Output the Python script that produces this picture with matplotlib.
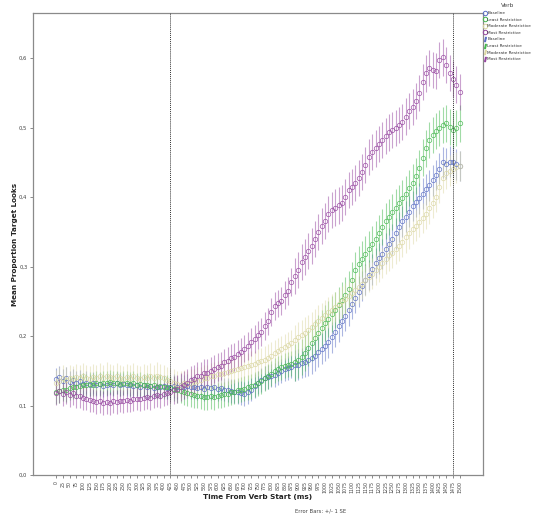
import matplotlib
matplotlib.use("Agg")
import matplotlib.pyplot as plt
from matplotlib.lines import Line2D
import numpy as np

# ---------------- data ----------------
step_ms = 12.5
tick_labels = [str(v) for v in range(0, 1501, 25)]
series_names = ["Baseline", "Least Restrictive", "Moderate Restrictive", "Most Restrictive"]
colors = ["#5a6ec4", "#45b84f", "#dcd8a4", "#9646a0"]

most = [0.118,0.121,0.117,0.119,0.115,0.118,0.114,0.113,0.111,0.110,
        0.108,0.107,0.105,0.106,0.104,0.105,0.103,0.106,0.105,0.107,
        0.106,0.108,0.107,0.109,0.110,0.109,0.111,0.112,0.111,0.113,
        0.115,0.114,0.116,0.118,0.120,0.122,0.124,0.127,0.129,0.133,
        0.137,0.138,0.142,0.143,0.147,0.147,0.150,0.153,0.155,0.157,
        0.162,0.164,0.168,0.170,0.174,0.177,0.182,0.186,0.192,0.196,
        0.202,0.206,0.214,0.221,0.235,0.243,0.247,0.251,0.259,0.265,
        0.278,0.286,0.295,0.306,0.314,0.322,0.330,0.340,0.350,0.358,
        0.366,0.376,0.381,0.385,0.388,0.392,0.400,0.410,0.415,0.420,
        0.428,0.436,0.446,0.458,0.465,0.470,0.476,0.482,0.488,0.493,
        0.497,0.500,0.504,0.508,0.516,0.524,0.530,0.538,0.550,0.566,
        0.578,0.586,0.583,0.582,0.597,0.601,0.590,0.579,0.570,0.562,
        0.551]

baseline = [0.138,0.141,0.136,0.139,0.134,0.137,0.133,0.135,0.131,0.133,
            0.130,0.132,0.129,0.131,0.128,0.130,0.131,0.129,0.132,0.130,
            0.131,0.129,0.130,0.128,0.130,0.127,0.129,0.126,0.128,0.125,
            0.127,0.126,0.128,0.125,0.127,0.128,0.126,0.129,0.127,0.128,
            0.126,0.127,0.125,0.127,0.124,0.126,0.125,0.127,0.124,0.125,
            0.123,0.122,0.121,0.120,0.119,0.118,0.117,0.119,0.123,0.128,
            0.133,0.137,0.140,0.141,0.143,0.144,0.147,0.150,0.152,0.154,
            0.156,0.158,0.159,0.161,0.163,0.165,0.168,0.172,0.177,0.182,
            0.186,0.191,0.198,0.206,0.214,0.222,0.229,0.237,0.246,0.255,
            0.264,0.272,0.281,0.288,0.296,0.305,0.312,0.318,0.326,0.333,
            0.340,0.348,0.357,0.365,0.372,0.379,0.387,0.393,0.398,0.405,
            0.411,0.417,0.424,0.432,0.441,0.450,0.448,0.451,0.450,0.447,
            0.445]

least = [0.119,0.121,0.123,0.122,0.125,0.127,0.126,0.128,0.130,0.129,
         0.131,0.130,0.132,0.131,0.133,0.132,0.134,0.132,0.133,0.131,
         0.132,0.133,0.131,0.132,0.130,0.131,0.129,0.130,0.128,0.129,
         0.127,0.128,0.126,0.127,0.125,0.124,0.122,0.121,0.119,0.118,
         0.116,0.115,0.114,0.113,0.112,0.112,0.113,0.112,0.114,0.115,
         0.116,0.117,0.119,0.120,0.122,0.123,0.124,0.126,0.128,0.130,
         0.132,0.135,0.139,0.142,0.146,0.150,0.153,0.155,0.157,0.159,
         0.160,0.162,0.165,0.170,0.176,0.183,0.190,0.197,0.205,0.212,
         0.219,0.225,0.232,0.238,0.245,0.252,0.259,0.268,0.280,0.295,
         0.303,0.311,0.318,0.325,0.333,0.340,0.348,0.357,0.365,0.371,
         0.378,0.385,0.391,0.398,0.404,0.413,0.421,0.430,0.442,0.457,
         0.470,0.482,0.489,0.495,0.500,0.504,0.506,0.501,0.497,0.499,
         0.506]

moderate = [0.132,0.136,0.139,0.137,0.140,0.138,0.141,0.139,0.142,0.140,
            0.138,0.141,0.139,0.142,0.140,0.143,0.141,0.139,0.142,0.140,
            0.138,0.141,0.139,0.142,0.140,0.138,0.141,0.139,0.142,0.140,
            0.143,0.141,0.139,0.137,0.135,0.133,0.131,0.130,0.132,0.131,
            0.133,0.134,0.136,0.137,0.139,0.140,0.142,0.143,0.145,0.146,
            0.147,0.148,0.150,0.151,0.153,0.154,0.156,0.157,0.159,0.160,
            0.162,0.164,0.166,0.169,0.172,0.175,0.178,0.181,0.184,0.187,
            0.190,0.194,0.198,0.201,0.205,0.209,0.213,0.217,0.222,0.226,
            0.230,0.234,0.238,0.242,0.246,0.250,0.254,0.258,0.262,0.266,
            0.270,0.275,0.280,0.285,0.290,0.295,0.300,0.305,0.311,0.316,
            0.320,0.325,0.330,0.336,0.342,0.348,0.354,0.359,0.364,0.370,
            0.376,0.384,0.392,0.400,0.414,0.428,0.434,0.438,0.441,0.443,
            0.445]

# standard errors (early / middle / late phases)
se_baseline = [0.016] * 35 + [0.017] * 36 + [0.022] * 50
se_least = [0.017] * 35 + [0.018] * 36 + [0.026] * 50
se_moderate = [0.019] * 35 + [0.019] * 36 + [0.022] * 50
se_most = [0.017] * 35 + [0.020] * 36 + [0.026] * 50

vlines_ms = [425, 1475]

# ---------------- figure ----------------
W, H = 537, 515
fig = plt.figure(figsize=(W / 100, H / 100), dpi=100)
ax = fig.add_axes([33 / W, 1 - 475 / H, (483 - 33) / W, (475 - 13) / H])

all_vals = [baseline, least, moderate, most]
all_se = [se_baseline, se_least, se_moderate, se_most]

for vals, se, c in zip(all_vals, all_se, colors):
    t = np.arange(len(vals)) * step_ms
    ax.errorbar(t, vals, yerr=se[:len(vals)], fmt="none", ecolor=c, elinewidth=0.8,
                alpha=0.5, capsize=0, zorder=2)
for vals, c in zip(all_vals, colors):
    t = np.arange(len(vals)) * step_ms
    ax.plot(t, vals, linestyle="none", marker="o", markersize=3.2,
            markerfacecolor="none", markeredgecolor=c, markeredgewidth=0.55,
            alpha=0.85, zorder=3)

for v in vlines_ms:
    ax.axvline(v, color="#333333", linestyle=(0, (1, 1)), linewidth=0.7, zorder=4)

ax.set_xlim(-86, 1587)
ax.set_ylim(0, 0.665)

tick_pos = [float(s) for s in tick_labels]
ax.set_xticks(tick_pos)
ax.set_xticklabels(tick_labels, rotation=90, fontsize=3.4, color="#444444")
yt = [0.0, 0.1, 0.2, 0.3, 0.4, 0.5, 0.6]
ax.set_yticks(yt)
ax.set_yticklabels([f"{v:.1f}".replace(".", ",") for v in yt], fontsize=3.8, color="#444444")
ax.tick_params(axis="both", length=2.5, width=0.6, color="#777777", pad=1.5)

for s in ax.spines.values():
    s.set_color("#8a8a8a")
    s.set_linewidth(0.9)

fig.text(258 / W, 1 - 497 / H, "Time From Verb Start (ms)", ha="center", va="center",
         fontsize=5.2, fontweight="bold", color="#222222")
fig.text(15 / W, 1 - 244 / H, "Mean Proportion Target Looks", ha="center", va="center",
         rotation=90, fontsize=5.2, fontweight="bold", color="#222222")
fig.text(321 / W, 1 - 511 / H, "Error Bars: +/- 1 SE", ha="center", va="center",
         fontsize=3.8, color="#444444")

# legend
handles = []
labels = []
for n, c in zip(series_names, colors):
    handles.append(Line2D([], [], linestyle="none", marker="o", markersize=3.2,
                          markerfacecolor="none", markeredgecolor=c, markeredgewidth=0.7))
    labels.append(n)
for n, c in zip(series_names, colors):
    handles.append(Line2D([], [], linestyle="none", marker="$I$", markersize=3.0,
                          color=c))
    labels.append(n)
leg = fig.legend(handles, labels, title="Verb", loc="upper left",
                 bbox_to_anchor=(484 / W, 1 - 3 / H), frameon=False, fontsize=3.1,
                 title_fontsize=4.2, handlelength=0.4, handletextpad=0.25,
                 labelspacing=0.6, borderaxespad=0, borderpad=0.1, alignment="center")
leg.get_title().set_color("#444444")
for t in leg.get_texts():
    t.set_color("#333333")

fig.savefig("out.png", dpi=100, facecolor="white")
